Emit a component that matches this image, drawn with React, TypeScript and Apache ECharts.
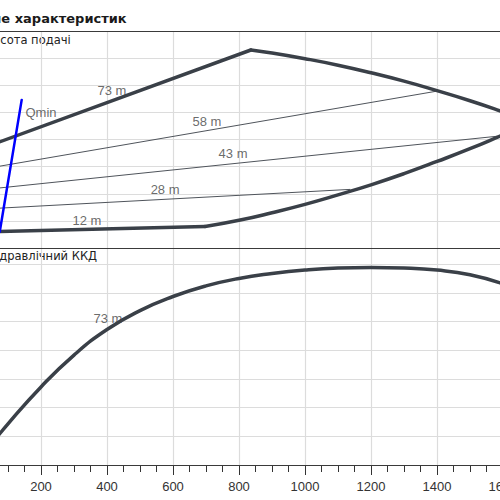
import React, { useEffect, useRef } from "react";
import * as echarts from "echarts";

// ---- data (Q in m3/h, H in m, efficiency in %) ----
const xTicks = { min: 0, max: 1800, interval: 200 };

const upperRise: number[][] = [[0, 35.8], [836, 73.0]];
const upperFall: number[][] = [[836, 73.0], [900, 71.9], [1000, 69.8], [1100, 67.4], [1200, 64.6], [1300, 61.5], [1400, 58.0], [1500, 54.3], [1600, 50.2], [1690, 46.3]];
const lowerFlat: number[][] = [[0, 5.9], [697, 7.9]];
const lowerRise: number[][] = [[697, 7.9], [800, 10.2], [900, 13.0], [1000, 16.1], [1100, 19.6], [1200, 23.3], [1300, 27.4], [1400, 31.9], [1500, 36.6], [1600, 41.7], [1690, 46.3]];

const line58: number[][] = [[0, 28.6], [1403, 57.9]];
const line43: number[][] = [[0, 21.2], [1582, 41.2]];
const line28: number[][] = [[0, 14.2], [1136, 21.6]];

const qmin: number[][] = [[75, 6.0], [141.5, 54.6]];

const efficiency: number[][] = [[0, 0.4], [100, 14.3], [200, 27.2], [300, 38.3], [400, 47.2], [500, 53.8], [600, 58.7], [700, 62.4], [800, 65.0], [900, 66.7], [1000, 67.9], [1100, 68.6], [1200, 68.8], [1300, 68.6], [1400, 67.9], [1500, 66.3], [1600, 63.1], [1700, 58.6]];

const headLabels: [string, number, number][] = [
  ["73 m", 415, 57.9],
  ["58 m", 703, 46.5],
  ["43 m", 782, 34.7],
  ["28 m", 576, 21.4],
  ["12 m", 339, 10.3],
];
const qminLabel: [string, number, number] = ["Qmin", 151.5, 50.1];
const effLabels: [string, number, number][] = [["73 m", 403, 50.9]];

const TITLE = "Поле характеристик";
const HEAD_NAME = "Висота подачі";
const EFF_NAME = "Гідравлічний ККД";

const THICK = "#3a4048";
const THIN = "#4f545b";
const GRIDC = "#dcdcdc";
const BORDER = "#3a3a3a";

function lineSeries(data: number[][], gi: number, width: number, color: string, smooth: any = false) {
  return {
    type: "line",
    xAxisIndex: gi === 0 ? 0 : 2,
    yAxisIndex: gi,
    data,
    smooth,
    symbol: "none",
    silent: true,
    lineStyle: { width, color, cap: "round", join: "round" },
    z: 2,
  };
}

function labelSeries(items: [string, number, number][], gi: number, pos: string) {
  return {
    type: "scatter",
    xAxisIndex: gi === 0 ? 0 : 2,
    yAxisIndex: gi,
    symbolSize: 1,
    itemStyle: { color: "rgba(0,0,0,0)" },
    silent: true,
    z: 5,
    data: items.map(([n, x, y]) => ({ name: n, value: [x, y] })),
    label: {
      show: true,
      position: pos,
      distance: 0,
      formatter: "{b}",
      color: "#444444",
      textBorderWidth: 0,
      fontSize: 13,
      fontFamily: "Liberation Sans, Arial, sans-serif",
    },
  };
}

export default function App() {
  const ref = useRef<HTMLDivElement>(null);
  useEffect(() => {
    const chart = echarts.init(ref.current!, null, { renderer: "svg" });
    const baseX = { type: "value", min: xTicks.min, max: xTicks.max, interval: xTicks.interval };
    const borderAxis = (gi: number, position: string) => ({
      ...baseX,
      gridIndex: gi,
      position,
      z: 1,
      axisLine: { show: true, lineStyle: { color: BORDER, width: 1.2 } },
      axisTick: { show: false },
      axisLabel: { show: false },
      splitLine: { show: false },
    });
    const option: any = {
      animation: false,
      backgroundColor: "#fff",
      grid: [
        { left: 75, top: 31, width: 594, height: 217 },
        { left: 75, top: 248, width: 594, height: 217 },
      ],
      xAxis: [
        {
          ...baseX,
          gridIndex: 0,
          position: "bottom",
          axisLine: { show: false },
          axisTick: { show: false },
          axisLabel: { show: false },
          splitLine: { show: true, lineStyle: { color: GRIDC, width: 1.2 } },
        },
        borderAxis(0, "top"),
        {
          ...baseX,
          gridIndex: 1,
          position: "bottom",
          axisLine: { show: false },
          axisTick: { show: true, length: 10, lineStyle: { color: "#333" } },
          minorTick: { show: true, splitNumber: 4, length: 7, lineStyle: { color: "#333" } },
          axisLabel: {
            show: true, margin: 15, color: "#333", fontSize: 13,
            fontFamily: "Liberation Sans, Arial, sans-serif",
            formatter: (v: number) => String(v),
          },
          splitLine: { show: true, lineStyle: { color: GRIDC, width: 1.2 } },
        },
        borderAxis(1, "top"),
        borderAxis(0, "bottom"),
        borderAxis(1, "bottom"),
      ],
      yAxis: [
        {
          type: "value", gridIndex: 0, min: 0, max: 80, interval: 10,
          axisLine: { show: false }, axisTick: { show: false }, axisLabel: { show: false },
          splitLine: { show: true, lineStyle: { color: GRIDC, width: 1.2 } },
        },
        {
          type: "value", gridIndex: 1, min: 0, max: 75.6, interval: 10,
          axisLine: { show: false }, axisTick: { show: false }, axisLabel: { show: false },
          splitLine: { show: true, lineStyle: { color: GRIDC, width: 1.2 } },
        },
      ],
      graphic: [
        { type: "text", x: 72, y: 18, style: { text: TITLE, fontSize: 13, fontWeight: "bold", fontFamily: "DejaVu Sans", fill: "#1a1a1a", verticalAlign: "middle" } },
        { type: "text", x: 85, y: 40, style: { text: HEAD_NAME, fontSize: 11.5, fontFamily: "DejaVu Sans", fill: "#222", verticalAlign: "middle" } },
        { type: "text", x: 89, y: 256, style: { text: EFF_NAME, fontSize: 11.5, fontFamily: "DejaVu Sans", fill: "#222", verticalAlign: "middle" } },
      ],
      series: [
        lineSeries(line58, 0, 1, THIN),
        lineSeries(line43, 0, 1, THIN),
        lineSeries(line28, 0, 1, THIN),
        lineSeries(upperRise, 0, 3.5, THICK),
        lineSeries(upperFall, 0, 3.5, THICK, true),
        lineSeries(lowerFlat, 0, 3.5, THICK),
        lineSeries(lowerRise, 0, 3.5, THICK, true),
        lineSeries(qmin, 0, 2.5, "#0000ff"),
        lineSeries(efficiency, 1, 3.5, THICK, true),
        labelSeries(headLabels, 0, "inside"),
        labelSeries([qminLabel], 0, "right"),
        labelSeries(effLabels, 1, "inside"),
      ],
    };
    chart.setOption(option);
    return () => chart.dispose();
  }, []);
  return (
    <div style={{ position: "fixed", left: 0, top: 0, width: 500, height: 500, overflow: "hidden", background: "#fff" }}>
      <div ref={ref} style={{ position: "absolute", left: -100, top: 0, width: 700, height: 500 }} />
    </div>
  );
}
